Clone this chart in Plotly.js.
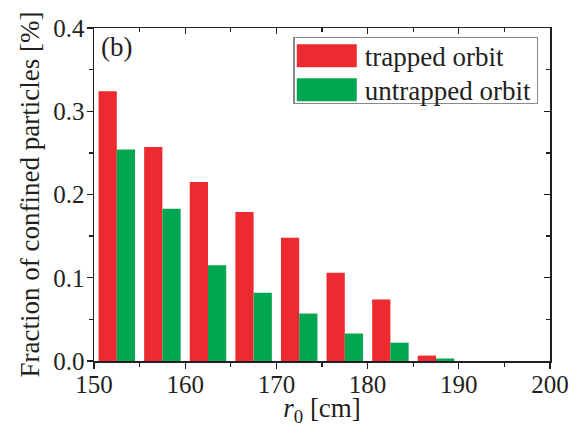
<!DOCTYPE html>
<html>
<head>
<meta charset="utf-8">
<script src="https://cdn.plot.ly/plotly-3.0.1.min.js"></script>
<style>html,body{margin:0;padding:0;background:#fff;}#chart{width:580px;height:427px;}</style>
</head>
<body>
<div id="chart"></div>
<script>
// r0 bin centers [cm]
const r0Bins = [152.5, 157.5, 162.5, 167.5, 172.5, 177.5, 182.5, 187.5];
// Fraction of confined particles [%]
const trappedOrbit   = [0.324, 0.257, 0.215, 0.179, 0.148, 0.106, 0.074, 0.0065];
const untrappedOrbit = [0.254, 0.183, 0.115, 0.082, 0.057, 0.033, 0.022, 0.003];
const seriesNames = ["trapped orbit", "untrapped orbit"];
const xTickVals = [150, 160, 170, 180, 190, 200];
const yTickVals = [0.0, 0.1, 0.2, 0.3, 0.4];

const FONT = "Times New Roman, Liberation Serif, Tinos, DejaVu Serif, serif";
const INK = "#231f20";
const RED = "#ED2A2F";
const GREEN = "#00A650";

const traces = [
  {type: "bar", name: seriesNames[0], x: r0Bins, y: trappedOrbit,
   marker: {color: RED, line: {width: 0}}},
  {type: "bar", name: seriesNames[1], x: r0Bins, y: untrappedOrbit,
   marker: {color: GREEN, line: {width: 0}}},
  {type: "scatter", x: [], y: [], xaxis: "x2", yaxis: "y2", showlegend: false, hoverinfo: "skip"}
];

const common = {showgrid: false, zeroline: false, tickcolor: INK, tickwidth: 1.3,
  tickfont: {family: FONT, size: 25, color: INK}};

const layout = {
  width: 580, height: 427,
  margin: {l: 94, r: 30, t: 28, b: 66},
  paper_bgcolor: "#fff", plot_bgcolor: "#fff",
  font: {family: FONT, color: INK},
  barmode: "group", bargap: 0.2, bargroupgap: 0,
  showlegend: true,
  legend: {x: 0.437, y: 0.973, xanchor: "left", yanchor: "top",
    bgcolor: "#fff", bordercolor: "#8a8a8a", borderwidth: 1.5,
    font: {family: FONT, size: 27, color: INK}, itemwidth: 60,
    tracegroupgap: 0},
  xaxis: Object.assign({}, common, {
    range: [150, 200], tickvals: xTickVals, ticktext: xTickVals.map(String),
    ticks: "outside", ticklen: 6, ticklabelstandoff: -6,
    minor: {dtick: 5, tick0: 150, ticks: "outside", ticklen: 4, tickcolor: INK, tickwidth: 1.3},
    showline: true, linecolor: INK, linewidth: 1.5, mirror: true,
    title: {text: "<i>r</i><sub>0</sub> [cm]", font: {family: FONT, size: 27, color: INK}, standoff: 11}
  }),
  yaxis: Object.assign({}, common, {
    range: [0, 0.4], tickvals: yTickVals, ticktext: yTickVals.map(v => v.toFixed(1)),
    ticks: "outside", ticklen: 6, ticklabelstandoff: -3,
    minor: {dtick: 0.05, tick0: 0, ticks: "outside", ticklen: 4, tickcolor: INK, tickwidth: 1.3},
    showline: true, linecolor: INK, linewidth: 1.5, mirror: true,
    title: {text: "Fraction of confined particles [%]", font: {family: FONT, size: 27, color: INK}, standoff: 6}
  }),
  xaxis2: Object.assign({}, common, {
    overlaying: "x", side: "top", anchor: "y2", range: [150, 200], tickvals: xTickVals,
    ticks: "inside", ticklen: 6, showticklabels: false, showline: false,
    minor: {dtick: 5, tick0: 150, ticks: "inside", ticklen: 4, tickcolor: INK, tickwidth: 1.3}
  }),
  yaxis2: Object.assign({}, common, {
    overlaying: "y", side: "right", anchor: "x2", range: [0, 0.4], tickvals: yTickVals,
    ticks: "inside", ticklen: 6, showticklabels: false, showline: false,
    minor: {dtick: 0.05, tick0: 0, ticks: "inside", ticklen: 4, tickcolor: INK, tickwidth: 1.3}
  }),
  annotations: [{xref: "paper", yref: "paper", x: 0.012, y: 0.995, xanchor: "left", yanchor: "top",
    text: "(b)", showarrow: false, font: {family: FONT, size: 27, color: INK}}]
};

Plotly.newPlot("chart", traces, layout, {staticPlot: true, displayModeBar: false}).then(gd => {
  // legend styling: wide colour blocks and tighter row spacing, as in the reference
  const leg = gd.querySelector(".legend");
  if (!leg) return;
  const bg = leg.querySelector("rect.bg");
  const items = leg.querySelectorAll(".traces");
  items.forEach(t => {
    const p = t.querySelector(".legendpoints path");
    if (p) p.setAttribute("d", "M27,11.5H-33V-11.5H27Z");
  });
  if (!bg) return;
  const top = bg.getBoundingClientRect().top;
  items.forEach((t, i) => {
    const p = t.querySelector(".legendpoints path");
    if (!p) return;
    const r = p.getBoundingClientRect();
    const cy = (r.top + r.bottom) / 2;
    const target = top + 18 + 34 * i;
    const m = /translate\(\s*([-\d.e]+)[ ,]+([-\d.e]+)\s*\)/.exec(t.getAttribute("transform") || "");
    const tx = m ? parseFloat(m[1]) : 0, ty = m ? parseFloat(m[2]) : 0;
    t.setAttribute("transform", "translate(" + tx + "," + (ty + target - cy) + ")");
  });
  bg.setAttribute("height", 66);
});
</script>
</body>
</html>
